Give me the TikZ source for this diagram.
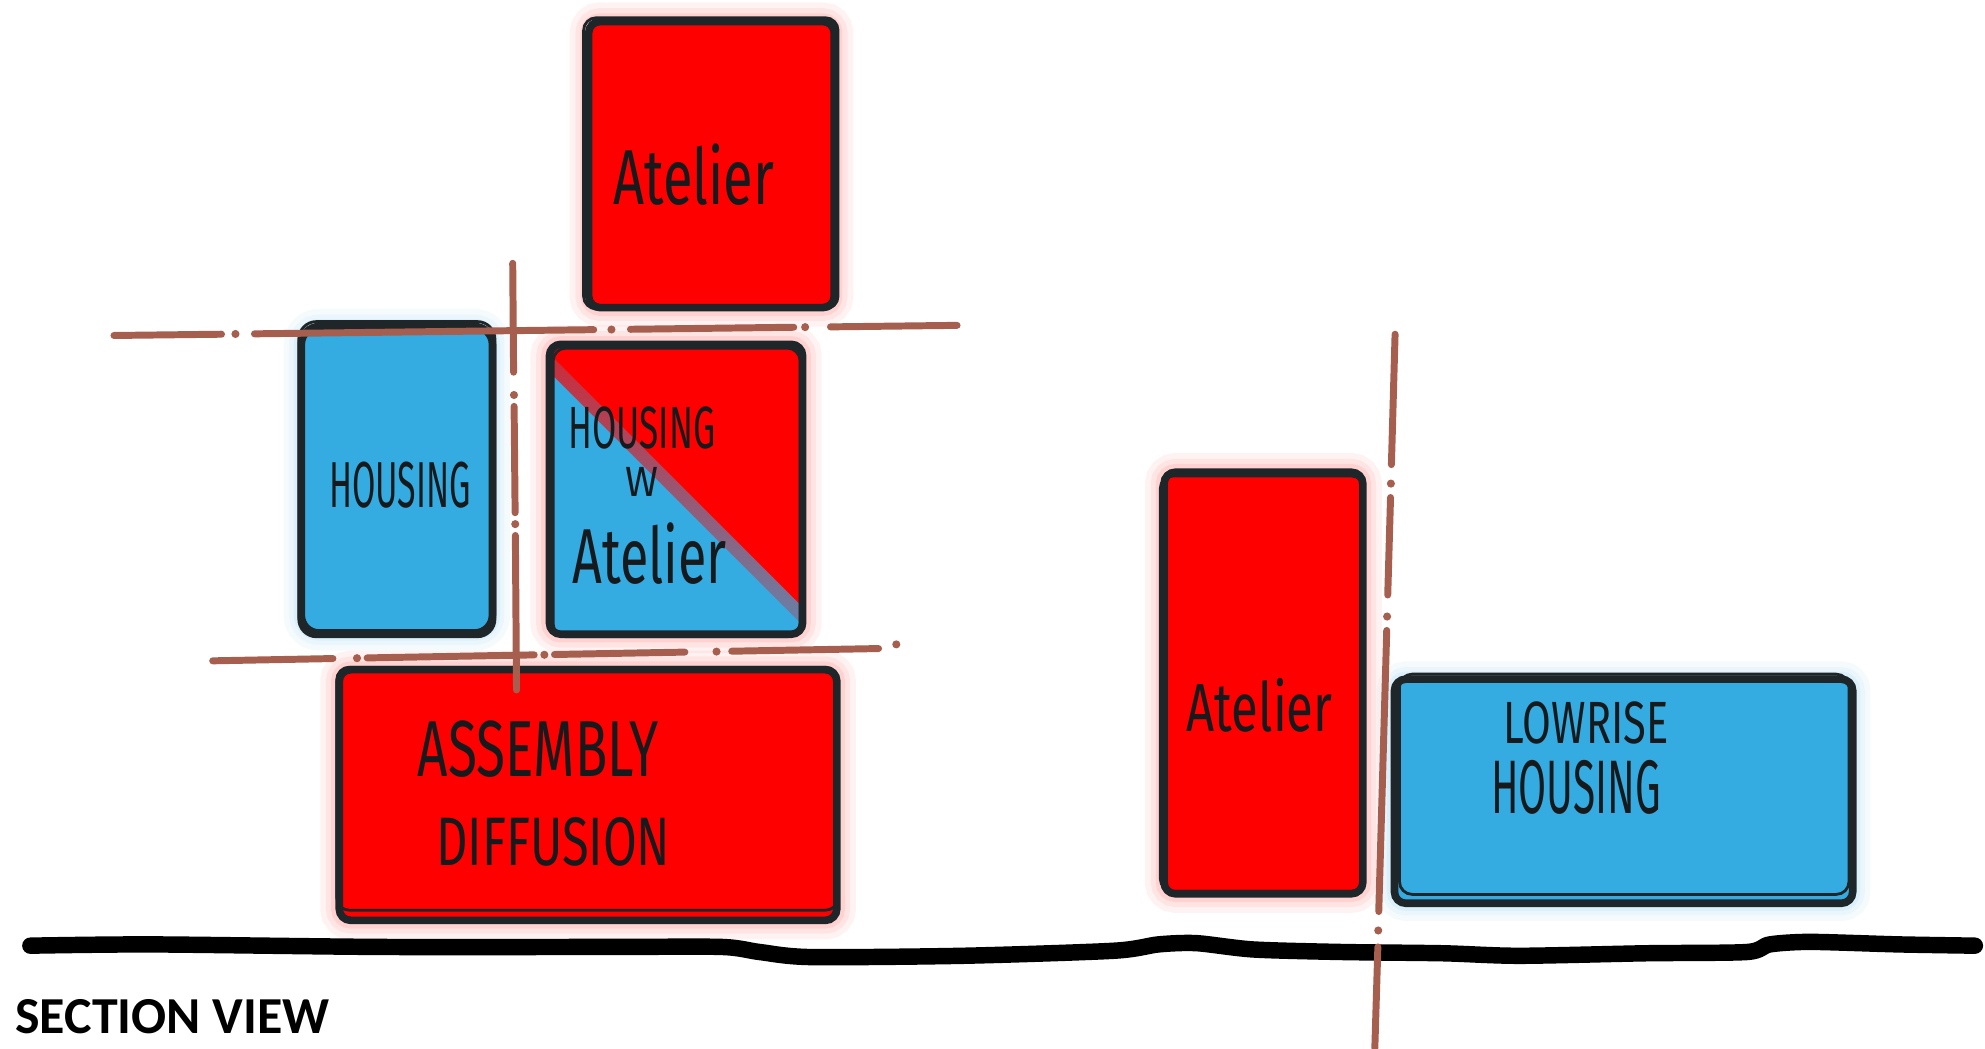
\documentclass[tikz,border=0pt]{standalone}
\usepackage{fontspec}
\usepackage{graphicx}
\setmainfont{Carlito}
\newfontfamily\hand{Fira Sans}
\usetikzlibrary{calc}
\definecolor{skred}{HTML}{FF0000}
\definecolor{skblue}{HTML}{35ACE1}
\definecolor{ink}{HTML}{1E2629}
\definecolor{axisc}{HTML}{A65E4F}
\definecolor{pen}{HTML}{161A1C}
\newcommand\handtext[3]{\resizebox{#1pt}{#2pt}{\hand #3}}
\begin{document}
\begin{tikzpicture}[x=1pt,y=-1pt,
  box/.style={draw=ink, line width=6pt, rounded corners=9pt, inner sep=0pt, outer sep=0pt},
  redglow/.style={preaction={draw=skred, draw opacity=0.05, line width=30pt},
                  preaction={draw=skred, draw opacity=0.06, line width=21pt},
                  preaction={draw=skred, draw opacity=0.08, line width=13pt}},
  blueglow/.style={preaction={draw=skblue, draw opacity=0.05, line width=28pt},
                   preaction={draw=skblue, draw opacity=0.06, line width=19pt},
                   preaction={draw=skblue, draw opacity=0.08, line width=12pt}},
  redbox/.style={box, fill=skred, redglow},
  bluebox/.style={box, fill=skblue, blueglow},
  sketch/.style={draw=ink, line width=2.2pt, rounded corners=10pt},
  label/.style={text=pen, inner sep=0pt},
  axisline/.style={draw=axisc, line width=5.5pt, line cap=round},
  axisdot/.style={fill=axisc},
  groundline/.style={draw=black, line width=13pt, line cap=round, line join=round},
]
\useasboundingbox (0,0) rectangle (1568,828);

% ---- boxes ----
\node[redbox, minimum width=194pt, minimum height=226pt] (topA) at (562,130) {};
\draw[sketch] ([shift={(-4,-3)}]topA.north west) rectangle ([shift={(3,1)}]topA.south east);

\node[bluebox, minimum width=151pt, minimum height=242pt, rounded corners=14pt] (hous) at (313.5,379) {};
\draw[sketch, rounded corners=14pt] ([shift={(-2,-4)}]hous.north west) rectangle ([shift={(2,3)}]hous.south east);

\node[inner sep=0pt, outer sep=0pt, minimum width=200pt, minimum height=229pt] (hw) at (534,386.5) {};
\path[redglow, rounded corners=9pt] (hw.north west) rectangle (hw.south east);
\begin{scope}
  \clip[rounded corners=9pt] (hw.north west) rectangle (hw.south east);
  \begin{scope}[x=1pt,y=1pt,shift={(534pt,-386.5pt)},rotate=-45]
    \fill[skblue] (-300,-300) rectangle (300,-5);
    \shade[bottom color=skblue, top color=skred] (-300,-5.2) rectangle (300,5.2);
    \fill[skred] (-300,5) rectangle (300,300);
  \end{scope}
\end{scope}
\draw[box] (hw.north west) rectangle (hw.south east);
\draw[sketch] ([shift={(3,3)}]hw.north west) rectangle ([shift={(-2,2)}]hw.south east);

\node[redbox, minimum width=393pt, minimum height=198pt] (asm) at (464.5,628) {};
\draw[sketch] ([shift={(-2,-2)}]asm.north west) rectangle ([shift={(1,-8)}]asm.south east);

\node[redbox, minimum width=157pt, minimum height=333pt] (rA) at (998,539.5) {};
\draw[sketch] ([shift={(-3,3)}]rA.north west) rectangle ([shift={(1,-2)}]rA.south east);

\node[bluebox, minimum width=362pt, minimum height=177pt] (low) at (1282.5,625) {};
\draw[sketch] ([shift={(4,-4)}]low.north west) rectangle ([shift={(-3,-7)}]low.south east);

% ---- ground ----
\draw[groundline] plot[smooth, tension=0.45] coordinates {(24,747) (120,746) (300,748) (480,748) (570,748) (600,752) (640,756) (760,755) (880,751) (915,746) (945,745) (990,750) (1060,752) (1140,753) (1200,755) (1300,753) (1380,752) (1398,746) (1430,744) (1500,746) (1560,747)};

% ---- axis lines (dash-dot, drawn by hand) ----
% upper horizontal
\draw[axisline] (90,265) -- (175,264);
\fill[axisdot] (186,263.8) circle (3.2pt);
\draw[axisline] (201,263.7) -- (469,260.4);
\fill[axisdot] (483,260.3) circle (3.2pt);
\draw[axisline] (498,260.1) -- (627,258.5);
\fill[axisdot] (636,258.4) circle (3.2pt);
\draw[axisline] (656,258.2) -- (756,257);
% lower horizontal
\draw[axisline] (168,522) -- (263,520.2);
\fill[axisdot] (282,519.9) circle (3.2pt);
\draw[axisline] (290,519.7) -- (422,517.3);
\fill[axisdot] (430,517.2) circle (3.2pt);
\draw[axisline] (438,517) -- (541,515.1);
\fill[axisdot] (566,514.7) circle (3.2pt);
\draw[axisline] (578,514.4) -- (694,512.3);
\fill[axisdot] (708,509) circle (3.2pt);
% left vertical
\draw[axisline] (405,208) -- (405.7,294);
\fill[axisdot] (406,312) circle (3.2pt);
\draw[axisline] (406.1,321) -- (406.9,405);
\fill[axisdot] (407,414) circle (3.2pt);
\draw[axisline] (407.1,423) -- (408,545);
% right vertical
\draw[axisline] (1102,264) -- (1099.1,367);
\fill[axisdot] (1098.7,382) circle (3.2pt);
\draw[axisline] (1098.4,393) -- (1096.2,470);
\fill[axisdot] (1095.7,487) circle (3.2pt);
\draw[axisline] (1095.4,498) -- (1089.1,720);
\fill[axisdot] (1088.7,735) circle (3.2pt);
\draw[axisline] (1088.4,748) -- (1086,828);

% ---- labels ----
\node[label] (tA) at (548,138) {\handtext{127}{48}{Atelier}};
\node[label] (tH) at (316,383) {\handtext{112}{36}{HOUSING}};
\node[label] (tHW1) at (507,338) {\handtext{116}{33}{HOUSING}};
\node[label] (tHW2) at (507,381) {\handtext{26}{23}{W}};
\node[label] (tHW3) at (513,437) {\handtext{122}{48}{Atelier}};
\node[label] (tAs1) at (425,592) {\handtext{190}{44}{ASSEMBLY}};
\node[label] (tAs2) at (437,665) {\handtext{185}{38}{DIFFUSION}};
\node[label] (tRA) at (995,557) {\handtext{115}{42}{Atelier}};
\node[label] (tL1) at (1253,571) {\handtext{130}{33}{LOWRISE}};
\node[label] (tL2) at (1245,622) {\handtext{134}{42}{HOUSING}};

\node[anchor=base west, inner sep=0pt, font=\bfseries\fontsize{41}{41}\selectfont] (title) at (12,816) {SECTION VIEW};
\end{tikzpicture}
\end{document}
